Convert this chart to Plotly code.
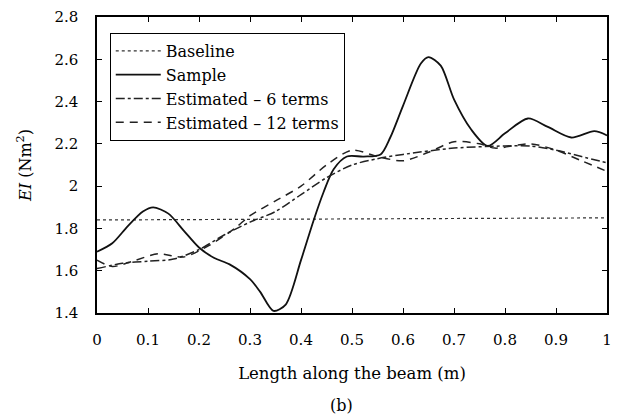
import plotly.graph_objects as go

# Data
x_base = [0.0, 0.5, 1.0]
ei_base = [1.84, 1.845, 1.85]

x_sample = [0.0, 0.03, 0.06, 0.09, 0.11, 0.14, 0.17, 0.20, 0.23, 0.26, 0.30, 0.32, 0.346,
            0.37, 0.40, 0.425, 0.444, 0.464, 0.49, 0.523, 0.556, 0.575, 0.60, 0.635, 0.65,
            0.674, 0.70, 0.733, 0.766, 0.80, 0.845, 0.884, 0.93, 0.975, 1.0]
ei_sample = [1.69, 1.73, 1.81, 1.88, 1.90, 1.87, 1.79, 1.71, 1.66, 1.63, 1.56, 1.50, 1.41,
             1.44, 1.65, 1.84, 1.97, 2.08, 2.14, 2.14, 2.15, 2.23, 2.38, 2.58, 2.61,
             2.57, 2.41, 2.27, 2.19, 2.25, 2.32, 2.28, 2.23, 2.26, 2.24]

x_est6 = [0.0, 0.05, 0.10, 0.15, 0.20, 0.25, 0.30, 0.35, 0.40, 0.45, 0.50, 0.55,
          0.60, 0.70, 0.80, 0.85, 0.90, 0.95, 1.0]
ei_est6 = [1.61, 1.635, 1.645, 1.655, 1.70, 1.77, 1.83, 1.88, 1.96, 2.04, 2.10, 2.13,
           2.15, 2.18, 2.19, 2.19, 2.17, 2.14, 2.11]

x_est12 = [0.0, 0.03, 0.07, 0.12, 0.17, 0.22, 0.27, 0.30, 0.35, 0.40, 0.45, 0.50,
           0.55, 0.60, 0.65, 0.70, 0.75, 0.78, 0.85, 0.90, 0.95, 1.0]
ei_est12 = [1.65, 1.62, 1.645, 1.68, 1.665, 1.72, 1.80, 1.86, 1.93, 2.00, 2.10, 2.17,
            2.14, 2.12, 2.16, 2.21, 2.20, 2.18, 2.20, 2.17, 2.12, 2.07]

x_ticks = [0, 0.1, 0.2, 0.3, 0.4, 0.5, 0.6, 0.7, 0.8, 0.9, 1]
y_ticks = [1.4, 1.6, 1.8, 2.0, 2.2, 2.4, 2.6, 2.8]

FONT = "DejaVu Serif"

fig = go.Figure()
fig.add_trace(go.Scatter(x=x_base, y=ei_base, mode="lines", name="Baseline",
                         line=dict(color="#333", width=1.2, dash="dot")))
fig.add_trace(go.Scatter(x=x_sample, y=ei_sample, mode="lines", name="Sample",
                         line=dict(color="#111", width=1.8, shape="spline", smoothing=0.8)))
fig.add_trace(go.Scatter(x=x_est6, y=ei_est6, mode="lines", name="Estimated \u2013 6 terms",
                         line=dict(color="#222", width=1.5, dash="dashdot", shape="spline", smoothing=0.8)))
fig.add_trace(go.Scatter(x=x_est12, y=ei_est12, mode="lines", name="Estimated \u2013 12 terms",
                         line=dict(color="#222", width=1.5, dash="8px,6px", shape="spline", smoothing=0.8)))

axis_common = dict(showline=True, linecolor="black", linewidth=1.5, mirror="ticks",
                   ticks="inside", ticklen=5, tickcolor="black", showgrid=False,
                   zeroline=False, tickfont=dict(family=FONT, size=15, color="black"))

fig.update_xaxes(range=[0, 1], tickvals=x_ticks, ticktext=[f"{v:g}" for v in x_ticks],
                 ticklabelstandoff=12,
                 title=dict(text="Length along the beam (m)",
                            font=dict(family=FONT, size=16.5, color="black"), standoff=20),
                 **axis_common)
fig.update_yaxes(range=[1.4, 2.8], tickvals=y_ticks, ticktext=[f"{v:g}" for v in y_ticks],
                 ticklabelstandoff=14,
                 title=dict(text="<i>EI</i> (Nm<sup>2</sup>)",
                            font=dict(family=FONT, size=16, color="black"), standoff=19),
                 **axis_common)

fig.update_layout(
    width=621, height=419,
    margin=dict(l=97, r=14, t=17, b=106, autoexpand=False),
    paper_bgcolor="white", plot_bgcolor="white",
    showlegend=True,
    legend=dict(x=0.025, y=0.946, xanchor="left", yanchor="top",
                bordercolor="black", borderwidth=1, bgcolor="white",
                font=dict(family=FONT, size=16, color="black"),
                tracegroupgap=0, itemwidth=45),
    annotations=[dict(text="(b)", xref="paper", yref="paper", x=0.48, y=-0.311,
                      xanchor="center", yanchor="middle", showarrow=False,
                      font=dict(family=FONT, size=16, color="black"))],
)

fig.write_html("out.html", config={"displayModeBar": False},
               post_script="document.body.style.margin='0';document.body.style.overflow='hidden';")
